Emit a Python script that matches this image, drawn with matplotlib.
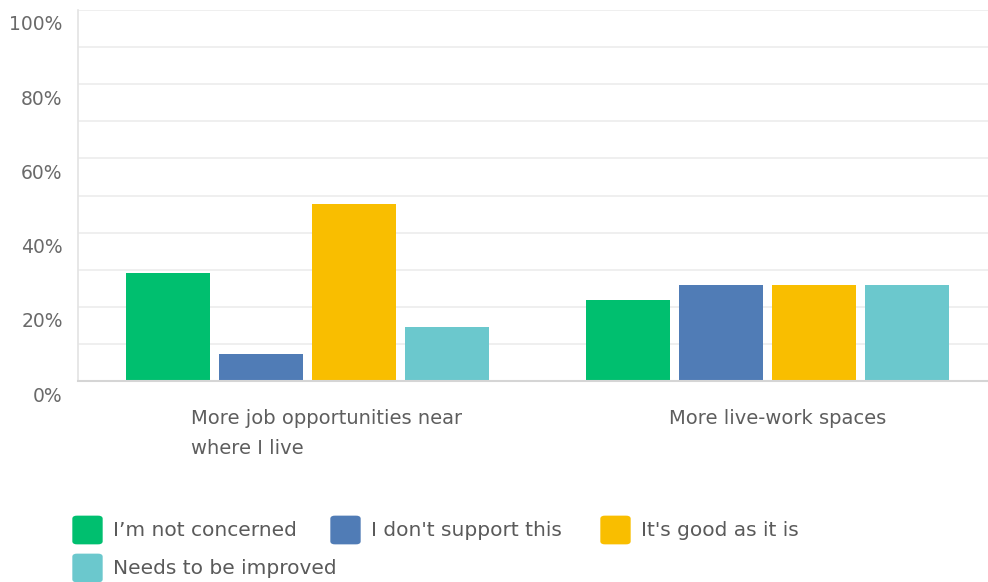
import matplotlib
matplotlib.use("Agg")
import matplotlib.pyplot as plt
import numpy as np
from matplotlib.transforms import ScaledTranslation
from matplotlib.patches import FancyBboxPatch

plt.rcParams['font.family'] = ['DejaVu Sans']

categories = ["More job opportunities near\nwhere I live", "More live-work spaces"]
series_names = ["I\u2019m not concerned", "I don't support this", "It's good as it is", "Needs to be improved"]
not_concerned = [29.2, 21.7]
dont_support = [7.2, 25.9]
good_as_is = [47.6, 25.9]
needs_improved = [14.6, 25.9]
colors = ["#00BF6F", "#507CB6", "#F9BE00", "#6BC8CD"]
y_ticks = [0, 20, 40, 60, 80, 100]
y_tick_labels = ["0%", "20%", "40%", "60%", "80%", "100%"]

W, H = 988, 582
fig = plt.figure(figsize=(W / 100, H / 100), dpi=100)
ax = fig.add_axes([78 / W, 1 - 381 / H, (988 - 78) / W, (381 - 10) / H])

series = [not_concerned, dont_support, good_as_is, needs_improved]
x = np.arange(len(categories))
bw = 0.183
step = 0.2025
for i, vals in enumerate(series):
    ax.bar(x + (i - 1.5) * step, vals, width=bw, color=colors[i], zorder=3)

ax.set_xlim(-0.499, 1.479)
ax.set_ylim(0, 100)
ax.set_yticks(y_ticks)
ax.set_yticklabels(y_tick_labels)
ax.set_yticks(np.arange(10, 100, 20), minor=True)
ax.grid(axis='y', which='both', color='#ececec', linewidth=1.2, zorder=0)
ax.tick_params(axis='y', which='both', length=0, pad=11, labelsize=13.5, labelcolor='#6a6a6a')
for s in ['top', 'right']:
    ax.spines[s].set_visible(False)
ax.spines['left'].set_color('#e3e3e3')
ax.spines['left'].set_linewidth(1.2)
ax.spines['bottom'].set_color('#d5d5d5')
ax.spines['bottom'].set_linewidth(1.5)
ax.spines['bottom'].set_zorder(4)

ax.set_xticks(x)
ax.set_xticklabels(categories, multialignment='left', linespacing=1.75)
ax.tick_params(axis='x', length=0, pad=20, labelsize=14, labelcolor='#5e5e5e')

for lab in ax.get_yticklabels():
    lab.set_transform(lab.get_transform() + ScaledTranslation(0, -13 / 100, fig.dpi_scale_trans))
xl = ax.get_xticklabels()
xl[0].set_transform(xl[0].get_transform() + ScaledTranslation(19 / 100, 0, fig.dpi_scale_trans))
xl[1].set_transform(xl[1].get_transform() + ScaledTranslation(10 / 100, 0, fig.dpi_scale_trans))

# legend (flow layout)
legend_pos = [(73, 530), (331, 530), (601, 530), (73, 568)]
sq = 29
for (px, py), name, c in zip(legend_pos, series_names, colors):
    p = FancyBboxPatch(((px + 2) / W, 1 - (py + sq / 2 - 2) / H), (sq - 4) / W, (sq - 4) / H,
                       boxstyle="round,pad=0.002,rounding_size=0.004",
                       transform=fig.transFigure, facecolor=c, edgecolor=c, linewidth=1)
    fig.patches.append(p)
    fig.text((px + 40) / W, 1 - py / H, name, ha='left', va='center',
             fontsize=14.5, color='#5a5a5a')

fig.savefig("out.png", dpi=100)
